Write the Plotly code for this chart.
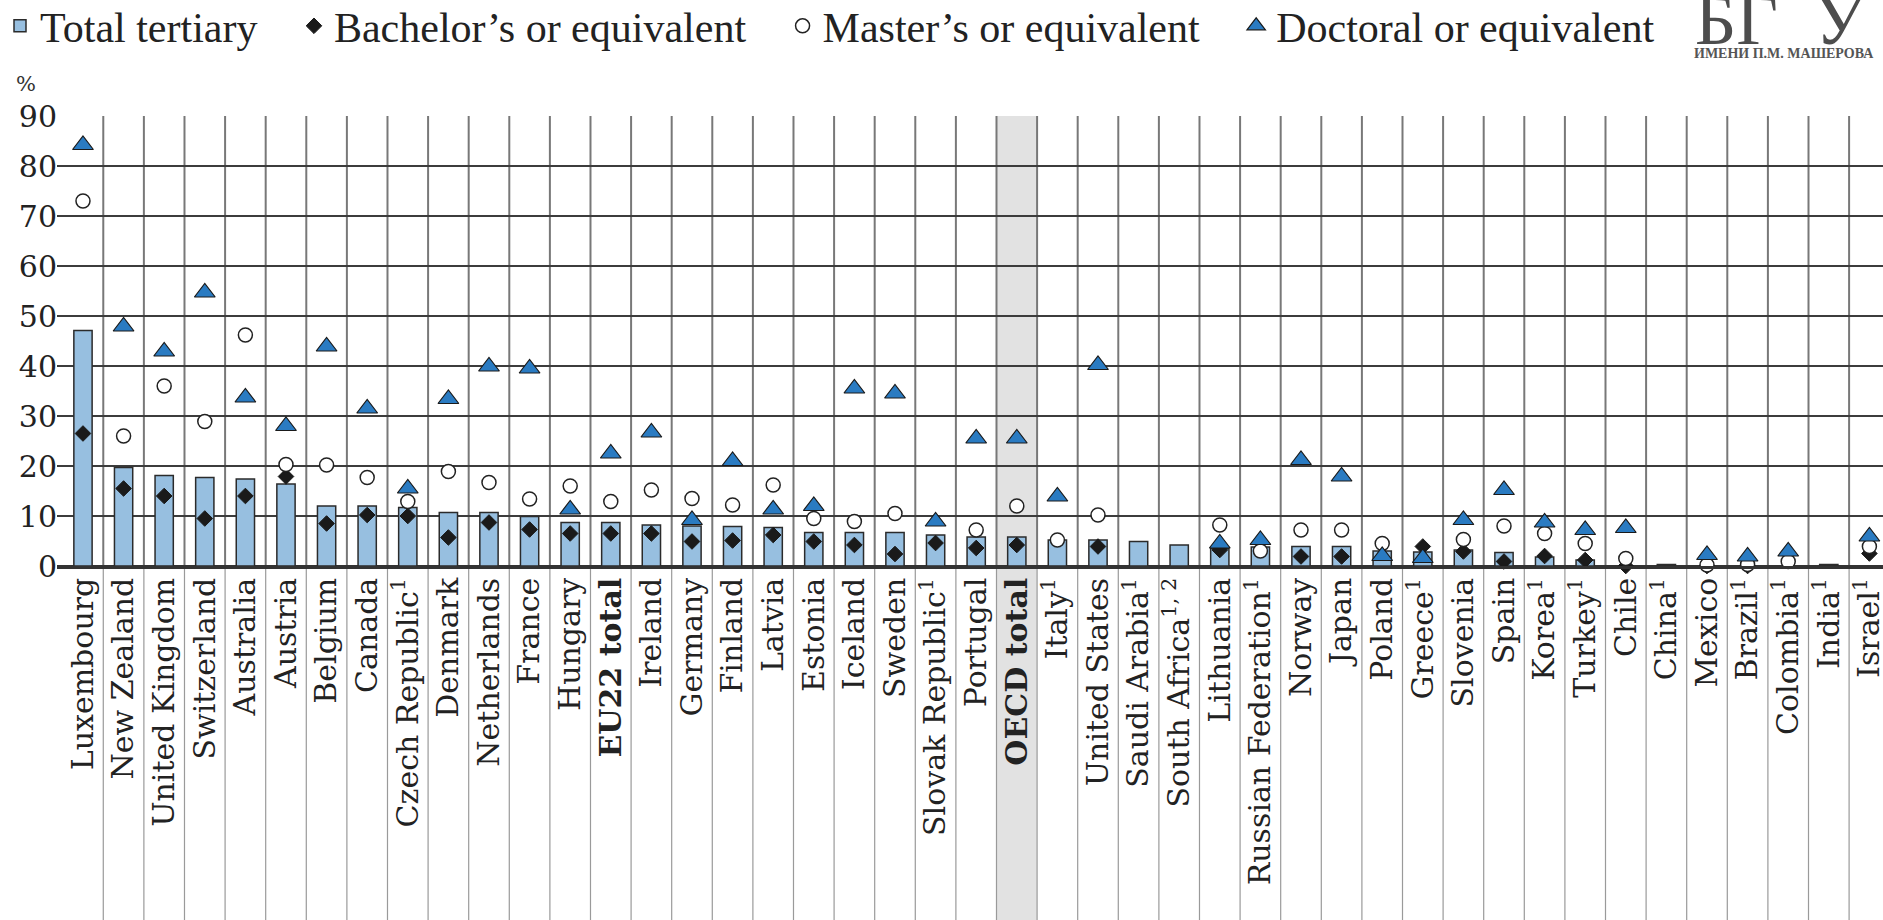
import plotly.graph_objects as go

# data (% values)
countries = [
    "Luxembourg", "New Zealand", "United Kingdom", "Switzerland", "Australia",
    "Austria", "Belgium", "Canada", "Czech Republic", "Denmark", "Netherlands",
    "France", "Hungary", "EU22 total", "Ireland", "Germany", "Finland", "Latvia",
    "Estonia", "Iceland", "Sweden", "Slovak Republic", "Portugal", "OECD total",
    "Italy", "United States", "Saudi Arabia", "South Africa", "Lithuania",
    "Russian Federation", "Norway", "Japan", "Poland", "Greece", "Slovenia",
    "Spain", "Korea", "Turkey", "Chile", "China", "Mexico", "Brazil",
    "Colombia", "India", "Israel",
]
tick_labels = [
    "Luxembourg", "New Zealand", "United Kingdom", "Switzerland", "Australia",
    "Austria", "Belgium", "Canada", "Czech Republic<sup>1</sup>", "Denmark",
    "Netherlands", "France", "Hungary", "<b>EU22 total</b>", "Ireland",
    "Germany", "Finland", "Latvia", "Estonia", "Iceland", "Sweden",
    "Slovak Republic<sup>1</sup>", "Portugal", "<b>OECD total</b>",
    "Italy<sup>1</sup>", "United States", "Saudi Arabia<sup>1</sup>",
    "South Africa<sup>1, 2</sup>", "Lithuania", "Russian Federation<sup>1</sup>",
    "Norway", "Japan", "Poland", "Greece<sup>1</sup>", "Slovenia", "Spain",
    "Korea<sup>1</sup>", "Turkey<sup>1</sup>", "Chile", "China<sup>1</sup>",
    "Mexico", "Brazil<sup>1</sup>", "Colombia<sup>1</sup>", "India<sup>1</sup>",
    "Israel<sup>1</sup>",
]
total_tertiary = [
    47.1, 19.7, 18.1, 17.7, 17.4, 16.4, 12.0, 12.0, 11.7, 10.7, 10.7,
    9.9, 8.7, 8.7, 8.2, 8.0, 7.9, 7.7, 6.7, 6.7, 6.7, 6.2, 5.8, 5.8,
    5.2, 5.2, 4.9, 4.2, 3.5, 3.8, 3.9, 3.9, 3.0, 2.8, 3.2, 2.7, 1.8,
    1.2, None, 0.3, None, None, None, 0.3, None,
]
bachelor = [
    26.5, 15.5, 14.0, 9.5, 14.0, 17.9, 8.5, 10.2, 10.0, 5.7, 8.7,
    7.3, 6.5, 6.5, 6.5, 4.9, 5.1, 6.2, 4.9, 4.2, 2.4, 4.6, 3.6, 4.2,
    None, 3.9, None, None, 3.2, None, 1.9, 1.9, None, 3.9, 2.9, 0.9, 2.0,
    1.2, 0.0, None, 0.0, 0.0, None, None, 2.5,
]
master = [
    73.0, 26.0, 36.0, 28.9, 46.2, 20.3, 20.2, 17.7, 12.9, 18.9, 16.7,
    13.4, 16.0, 12.9, 15.2, 13.5, 12.2, 16.2, 9.5, 8.9, 10.5, None, 7.2, 12.0,
    5.2, 10.2, None, None, 8.2, 3.0, 7.2, 7.2, 4.5, None, 5.3, 8.0, 6.5,
    4.5, 1.5, None, 0.2, 0.3, 0.9, None, 3.9,
]
doctoral = [
    84.2, 47.9, 42.9, 54.7, 33.7, 28.0, 43.9, 31.5, 15.5, 33.4, 39.9,
    39.5, 11.3, 22.5, 26.7, 9.2, 21.0, 11.3, 12.0, 35.5, 34.5, 8.9, 25.5, 25.5,
    13.9, 40.2, None, None, 4.5, 5.2, 21.2, 17.9, 2.0, 1.6, 9.2, 15.2, 8.7,
    7.2, 7.6, None, 2.2, 1.9, 2.9, None, 5.9,
]
y_ticks = [0, 10, 20, 30, 40, 50, 60, 70, 80, 90]

W, H = 1883, 920
L, T, B = 57, 116, 354
plot_w = W - L
plot_h = H - T - B
col_w = 40.6


def px_x(p):
    return (p - L) / plot_w


def px_y(p):
    return (H - B - p) / plot_h


serif = "DejaVu Serif, serif"
legend_serif = "Liberation Serif, Times New Roman, serif"
gap = "\u00a0" * 3  # extra room between legend entries, as in the original

fig = go.Figure()
fig.add_trace(go.Bar(
    x=countries, y=total_tertiary, name="Total tertiary" + gap, width=0.45,
    marker=dict(color="#97bfe0", line=dict(color="#2b2b2b", width=1.5)),
))
fig.add_trace(go.Scatter(
    x=countries, y=bachelor, name="Bachelor’s or equivalent" + gap, mode="markers",
    cliponaxis=False,
    marker=dict(symbol="diamond", size=12, color="#1a1a1a",
                line=dict(color="#1a1a1a", width=1)),
))
fig.add_trace(go.Scatter(
    x=countries, y=master, name="Master’s or equivalent" + gap, mode="markers",
    cliponaxis=False,
    marker=dict(symbol="circle", size=14, color="white",
                line=dict(color="#222222", width=1.5)),
))
fig.add_trace(go.Scatter(
    x=countries, y=doctoral, name="Doctoral or equivalent", mode="markers",
    cliponaxis=False,
    marker=dict(symbol="triangle-up", size=18, color="#2a7bc2",
                line=dict(color="#1a1a1a", width=1.2)),
))

# column separators, also running through the label area
shapes = []
oecd = countries.index("OECD total")
shapes.append(dict(type="rect", xref="x", yref="paper", x0=oecd - 0.5, x1=oecd + 0.5,
                   y0=-B / plot_h, y1=1, fillcolor="#e2e2e2", line=dict(width=0),
                   layer="below"))
for i in range(1, len(countries)):
    shapes.append(dict(type="line", xref="x", yref="paper", x0=i - 0.5, x1=i - 0.5,
                       y0=0, y1=1, line=dict(color="#787878", width=2), layer="below"))
    shapes.append(dict(type="line", xref="x", yref="paper", x0=i - 0.5, x1=i - 0.5,
                       y0=-B / plot_h, y1=0, line=dict(color="#9a9a9a", width=1.2),
                       layer="below"))

annotations = [
    dict(text="%", x=px_x(26), y=px_y(84), xref="paper", yref="paper",
         xanchor="center", yanchor="middle", showarrow=False,
         font=dict(family=serif, size=21, color="#333")),
    dict(text="БГ  У", x=px_x(1780), y=px_y(20), xref="paper", yref="paper",
         xanchor="center", yanchor="middle", showarrow=False,
         font=dict(family=legend_serif, size=72, color="#4d4d4d")),
    dict(text="<b>ИМЕНИ П.М. МАШЕРОВА</b>", x=px_x(1784), y=px_y(53), xref="paper",
         yref="paper", xanchor="center", yanchor="middle", showarrow=False,
         font=dict(family=legend_serif, size=14, color="#555")),
]

fig.update_layout(
    template="none",
    width=W, height=H,
    margin=dict(l=L, r=0, t=T, b=B, pad=0, autoexpand=False),
    plot_bgcolor="rgba(0,0,0,0)", paper_bgcolor="white",
    bargap=0.5,
    showlegend=True,
    legend=dict(orientation="h", xref="paper", yref="paper",
                x=px_x(0), y=px_y(-8), xanchor="left", yanchor="top",
                font=dict(family=legend_serif, size=42, color="#222"),
                itemwidth=30, bgcolor="rgba(0,0,0,0)", borderwidth=0),
    shapes=shapes,
    annotations=annotations,
)
fig.update_xaxes(
    type="category", range=[-0.64, (W - 83) / col_w],
    tickvals=countries, ticktext=tick_labels, tickangle=-90,
    tickfont=dict(family=serif, size=30, color="#222"),
    showgrid=False, showline=True, linecolor="#333", linewidth=2.5,
    ticks="", automargin=False, ticklabelstandoff=-3,
)
fig.update_yaxes(
    range=[0, 90], tickvals=y_ticks, showgrid=True, gridcolor="#3c3c3c",
    gridwidth=1.6, zeroline=True, zerolinecolor="#333", zerolinewidth=2.5,
    tickfont=dict(family=serif, size=30, color="#222"), ticks="",
    showline=False, automargin=False, ticklabelstandoff=-1,
)

# the page body has a default 8px margin; drop it so the figure fills the window
fig.write_html("out.html", config={"displayModeBar": False},
               post_script="document.body.style.margin='0';")
